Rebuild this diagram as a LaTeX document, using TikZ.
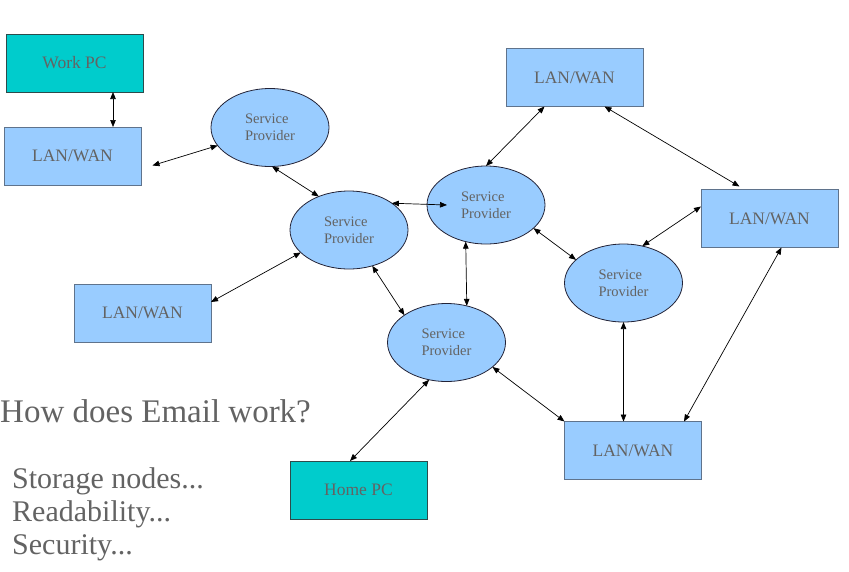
\documentclass[tikz,border=0pt]{standalone}
\usepackage{fontspec}
\setmainfont{Liberation Serif}
\usetikzlibrary{arrows.meta}
\usetikzlibrary{shapes.geometric}
\definecolor{pcteal}{RGB}{0,204,204}
\definecolor{pcedge}{RGB}{45,75,75}
\definecolor{lanblue}{RGB}{153,204,255}
\definecolor{lanedge}{RGB}{95,115,140}
\definecolor{spedge}{RGB}{35,35,55}
\definecolor{labelgray}{RGB}{99,99,99}
\tikzset{
pcbox/.style={ % teal boxes for the two computers
draw=pcedge, line width=0.9pt,
fill=pcteal,
minimum width=137pt, minimum height=58pt,
inner sep=0pt, outer sep=0pt,
text=labelgray, font=\fontsize{17.5}{20}\selectfont},
lanbox/.style={ % blue network boxes
draw=lanedge, line width=0.9pt,
fill=lanblue,
minimum width=137pt, minimum height=58pt,
inner sep=0pt, outer sep=0pt,
text=labelgray, font=\fontsize{17.5}{20}\selectfont},
provider/.style={ % service provider ellipses
ellipse, draw=spedge, line width=0.8pt,
fill=lanblue,
minimum width=118pt, minimum height=78pt,
inner sep=0pt, outer sep=0pt, align=left,
text=labelgray, font=\fontsize{14.5}{17}\selectfont},
link/.style={ % two way connectors
draw, line width=0.7pt,
{Triangle[length=7pt,width=5.5pt]}-{Triangle[length=7pt,width=5.5pt]}},
bigtext/.style={ % text on the left
anchor=base west, inner sep=0pt, text=labelgray}}

\begin{document}
\begin{tikzpicture}[x=1pt,y=-1pt]
\useasboundingbox (0,0) rectangle (849,571);
\node[pcbox] (work) at (74.5,63) {Work PC};
\node[pcbox] (home) at (358.5,490) {Home PC};
\node[lanbox] (lan1) at (72.5,156) {LAN/WAN};
\node[lanbox] (lanl) at (142.5,313) {LAN/WAN};
\node[lanbox] (lant) at (574.5,77.5) {LAN/WAN};
\node[lanbox] (lanr) at (769.5,218.5) {LAN/WAN};
\node[lanbox] (lanb) at (633,450.5) {LAN/WAN};
\node[provider] (sp1) at (270,127.5) {Service\\Provider};
\node[provider] (sp2) at (349,230) {Service\\Provider};
\node[provider] (sp3) at (486,205) {Service\\Provider};
\node[provider] (sp4) at (446.5,342.5) {Service\\Provider};
\node[provider] (sp5) at (623.5,283) {Service\\Provider};
\node[bigtext, font=\fontsize{33}{36}\selectfont] (title) at (0,422) {How does Email work?};
\node[bigtext, font=\fontsize{30}{33}\selectfont] (storage) at (12,488) {Storage nodes...};
\node[bigtext, font=\fontsize{30}{33}\selectfont] (readability) at (12,521) {Readability...};
\node[bigtext, font=\fontsize{30}{33}\selectfont] (security) at (12,554) {Security...};
\draw[link] ([xshift=38.5pt]work.south) -- ([xshift=40.5pt]lan1.north);
\draw[link, shorten <=12pt] ([yshift=-13pt]lan1.east) -- (sp1.199);
\draw[link] (sp1.-87) -- (sp2.132);
\draw[link] (sp2.32) -- ([xshift=20pt]sp3.west);
\draw[link] (sp2.205) -- ([yshift=11pt]lanl.east);
\draw[link] (sp2.-57) -- (sp4.147);
\draw[link] (sp3.-119) -- (sp4.61);
\draw[link] (sp3.north) -- ([xshift=-30pt]lant.south);
\draw[link] ([xshift=30pt]lant.south) -- ([xshift=-30pt,yshift=3pt]lanr.north);
\draw[link] (sp3.-26) -- (sp5.154);
\draw[link] (sp5.63) -- ([yshift=12pt]lanr.west);
\draw[link] (sp5.south) -- (sp5.south |- lanb.north);
\draw[link] (sp4.-28) -- (lanb.north west);
\draw[link] ([xshift=12pt]lanr.south) -- ([xshift=51pt]lanb.north);
\draw[link] ([xshift=-8.5pt]home.north) -- (sp4.245);
\end{tikzpicture}
\end{document}
